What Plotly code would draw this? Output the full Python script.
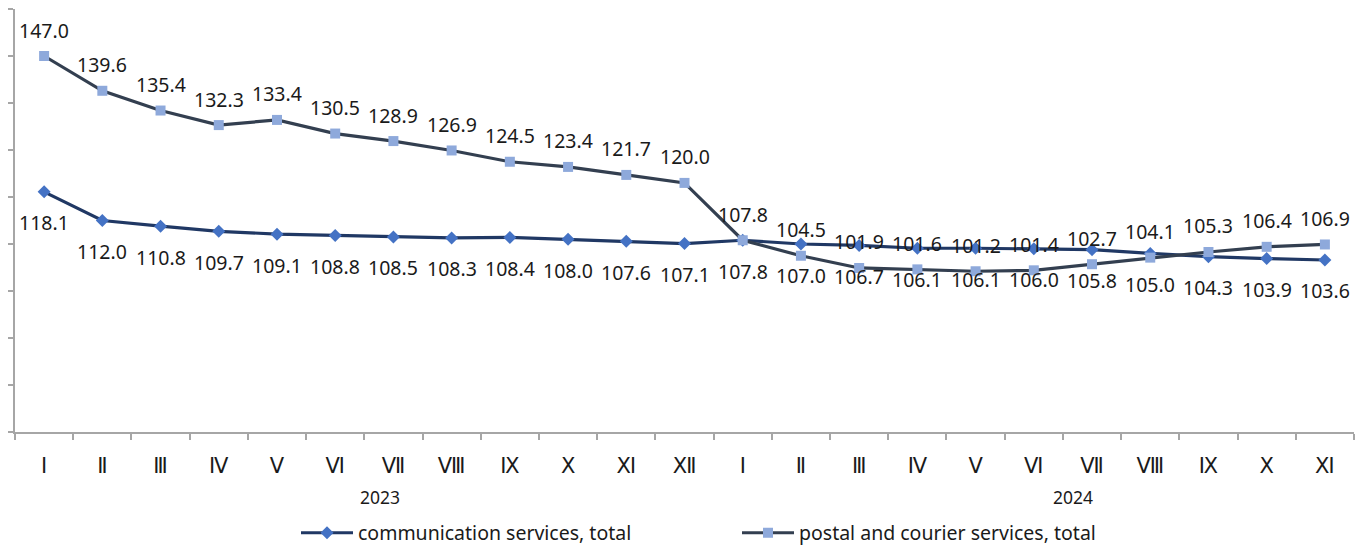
import plotly.graph_objects as go

months = ["Ⅰ", "Ⅱ", "Ⅲ", "Ⅳ", "Ⅴ", "Ⅵ", "Ⅶ", "Ⅷ", "Ⅸ", "Ⅹ", "Ⅺ", "Ⅻ",
          "Ⅰ", "Ⅱ", "Ⅲ", "Ⅳ", "Ⅴ", "Ⅵ", "Ⅶ", "Ⅷ", "Ⅸ", "Ⅹ", "Ⅺ"]
years = ["2023", "2024"]
comm = [118.1, 112.0, 110.8, 109.7, 109.1, 108.8, 108.5, 108.3, 108.4, 108.0, 107.6, 107.1,
        107.8, 107.0, 106.7, 106.1, 106.1, 106.0, 105.8, 105.0, 104.3, 103.9, 103.6]
postal = [147.0, 139.6, 135.4, 132.3, 133.4, 130.5, 128.9, 126.9, 124.5, 123.4, 121.7, 120.0,
          107.8, 104.5, 101.9, 101.6, 101.2, 101.4, 102.7, 104.1, 105.3, 106.4, 106.9]

xs = list(range(len(months)))
FONT = "Noto Sans, DejaVu Sans, sans-serif"
AXIS = "#a6a6a6"

fig = go.Figure()
fig.add_trace(go.Scatter(
    x=xs, y=comm, mode="lines+markers", name="communication services, total",
    line=dict(color="#203864", width=3.2),
    marker=dict(symbol="diamond", size=10, color="#4472C4", line=dict(width=0)),
))
fig.add_trace(go.Scatter(
    x=xs, y=postal, mode="lines+markers", name="postal and courier services, total",
    line=dict(color="#333F50", width=3.2),
    marker=dict(symbol="square", size=10, color="#8EA9DB", line=dict(width=0)),
))

annotations = []
for i, v in enumerate(postal):
    annotations.append(dict(x=i, y=v, xref="x", yref="y", text=f"{v:.1f}", showarrow=False,
                            yshift=26, font=dict(family=FONT, size=19.5, color="#1a1a1a")))
for i, v in enumerate(comm):
    annotations.append(dict(x=i, y=v, xref="x", yref="y", text=f"{v:.1f}", showarrow=False,
                            yshift=-31, font=dict(family=FONT, size=19.5, color="#1a1a1a")))
year_pos = [5.77, 17.68]
for yr, xp in zip(years, year_pos):
    annotations.append(dict(x=xp, y=-0.154, xref="x", yref="paper", text=yr, showarrow=False,
                            yanchor="middle",
                            font=dict(family=FONT, size=17.5, color="#1a1a1a")))

fig.update_layout(
    width=1362, height=538,
    margin=dict(l=7, r=16, t=1, b=114, autoexpand=False),
    paper_bgcolor="white", plot_bgcolor="white",
    showlegend=True,
    legend=dict(orientation="h", x=(288 - 7) / 1339, y=-0.239, xanchor="left", yanchor="middle",
                font=dict(family=FONT, size=19.5, color="#1a1a1a"),
                entrywidth=374, entrywidthmode="pixels", itemwidth=52),
    annotations=annotations,
)
fig.update_xaxes(
    range=[-0.5, 22.5], tickmode="array", tickvals=xs, ticktext=months,
    ticks="", ticklabelstandoff=14, showgrid=False, zeroline=False,
    showline=True, linecolor=AXIS, linewidth=1.5,
    tickfont=dict(family="DejaVu Sans, sans-serif", size=21, color="#1a1a1a"),
    minor=dict(tick0=-0.5, dtick=1, ticks="outside", ticklen=6, tickcolor=AXIS, tickwidth=1.5, showgrid=False),
)
fig.update_yaxes(
    range=[67, 157], tick0=67, dtick=10, ticks="outside", ticklen=7, tickcolor=AXIS, tickwidth=1.5,
    showticklabels=False, showgrid=False, zeroline=False,
    showline=True, linecolor=AXIS, linewidth=1.5,
)

fig.write_html("out.html")
